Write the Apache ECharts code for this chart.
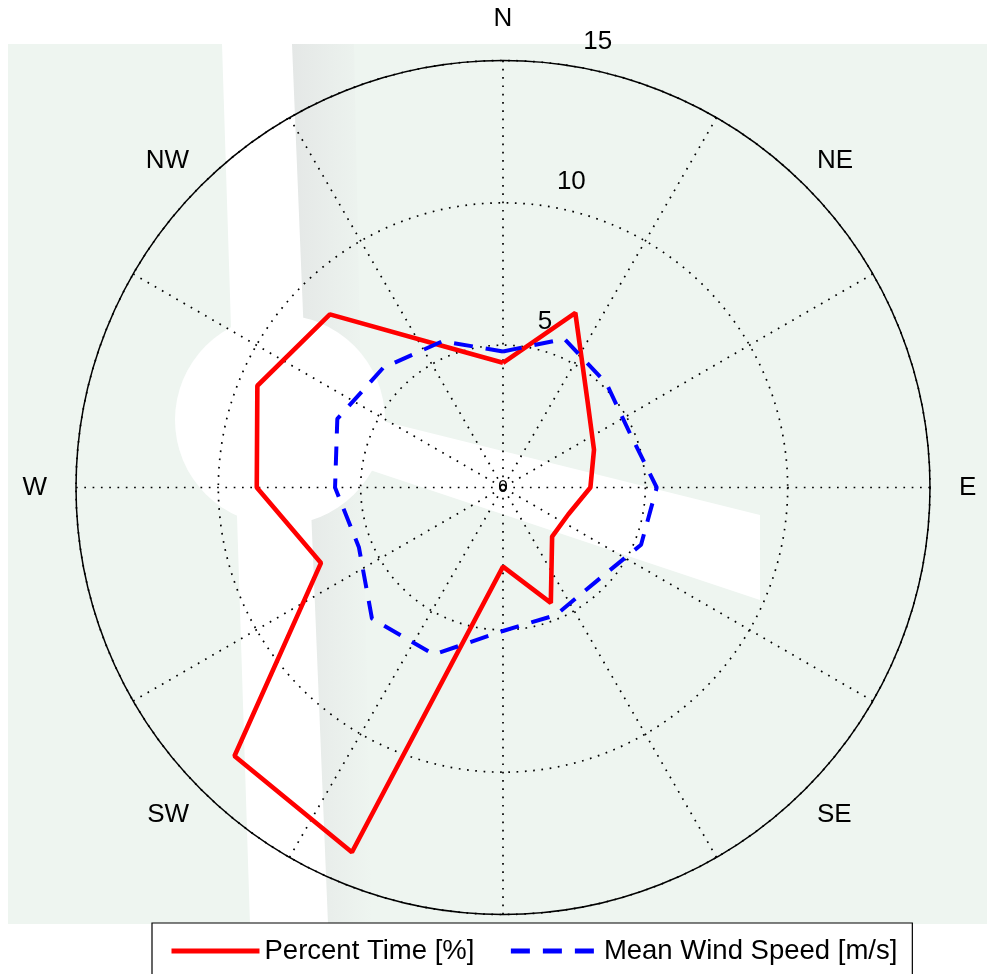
<!DOCTYPE html>
<html><head><meta charset="utf-8">
<script src="https://cdn.jsdelivr.net/npm/echarts@6/dist/echarts.min.js"></script>
<style>html,body{margin:0;padding:0;background:#fff}#c{width:987px;height:974px}</style>
</head><body><div id="c"></div>
<script>
// ---- data ----
const directions = ['N','NNE','NE','ENE','E','ESE','SE','SSE','S','SSW','SW','WSW','W','WNW','NW','NNW'];
const bearings = [0, 22.5, 45, 67.5, 90, 112.5, 135, 157.5, 180, 202.5, 225, 247.5, 270, 292.5, 315, 337.5];
const percentTime = [4.38, 6.64, 4.21, 3.46, 3.07, 2.48, 2.44, 4.39, 2.78, 13.87, 13.34, 6.92, 8.65, 9.34, 8.6, 5.36];
const meanWindSpeed = [4.78, 5.65, 5.15, 4.85, 5.4, 5.25, 4.65, 4.85, 5.04, 6.35, 6.51, 5.48, 5.9, 6.3, 5.95, 5.56];
const cardinalLabels = ['N','E','S','W'];
const diagonalLabels = ['NE','SE','SW','NW'];
const radiusMax = 15;
const radiusStep = 5;
const seriesNames = ['Percent Time [%]', 'Mean Wind Speed [m/s]'];

// closed loop: [radius, bearing]
function closed(vals){
  const d = vals.map((v,i)=>[v, bearings[i]]);
  d.push([vals[0], bearings[0] + 360]);
  return d;
}

const FONT = 'Liberation Sans, Arial, sans-serif';
const C = [503, 487.5], R = 427;
const dotted = {color:'#000', width:1.7, type:[1.7,6.6]};
const hidden = {axisLine:{show:false}, axisTick:{show:false}, axisLabel:{show:false}, splitLine:{show:false}};
const compassLabel = m => ({show:true, interval:0, margin:m, color:'#000', fontSize:26, fontFamily:FONT});

const chart = echarts.init(document.getElementById('c'), null, {renderer:'canvas'});
chart.setOption({
  animation:false,
  backgroundColor:'#ffffff',
  graphic:{elements:[
    {type:'rect', z:-100, silent:true, shape:{x:8,y:44,width:979,height:880}, style:{fill:'#eef5f0'}},
    {type:'polygon', z:-99, silent:true, shape:{points:[[290,44],[354,44],[372,924],[326,924]]},
      style:{fill:new echarts.graphic.LinearGradient(0,0,1,0,[{offset:0,color:'#e4e7e6'},{offset:1,color:'#eef5f0'}])}},
    {type:'polygon', z:-98, silent:true, shape:{points:[[222,44],[292,44],[328,924],[250,924]]}, style:{fill:'#ffffff'}},
    {type:'circle', z:-98, silent:true, shape:{cx:280,cy:420,r:105}, style:{fill:'#ffffff'}},
    {type:'polygon', z:-98, silent:true, shape:{points:[[370,418],[760,515],[760,600],[370,470]]}, style:{fill:'#ffffff'}}
  ]},
  polar:[
    {center:C, radius:R},
    {center:C, radius:R},
    {center:C, radius:R},
    {center:C, radius:R},
    {center:C, radius:R}
  ],
  angleAxis:[
    Object.assign({polarIndex:0, type:'value', min:0, max:360, startAngle:90, clockwise:true}, hidden),
    {polarIndex:1, type:'value', min:0, max:360, interval:30, startAngle:90, clockwise:true,
      axisLine:{show:true, lineStyle:{color:'#000', width:1.5}}, axisTick:{show:false}, axisLabel:{show:false},
      splitLine:{show:true, lineStyle:dotted}},
    {polarIndex:2, type:'category', data:cardinalLabels, boundaryGap:false, startAngle:90, clockwise:true,
      axisLine:{show:false}, axisTick:{show:false}, splitLine:{show:false}, axisLabel:compassLabel(29)},
    {polarIndex:3, type:'category', data:diagonalLabels, boundaryGap:false, startAngle:45, clockwise:true,
      axisLine:{show:false}, axisTick:{show:false}, splitLine:{show:false}, axisLabel:compassLabel(17)},
    Object.assign({polarIndex:4, type:'value', min:0, max:360, startAngle:79.3, clockwise:true}, hidden)
  ],
  radiusAxis:[
    Object.assign({polarIndex:0, min:0, max:radiusMax}, hidden),
    {polarIndex:1, min:0, max:radiusMax, interval:radiusStep, axisLine:{show:false}, axisTick:{show:false}, axisLabel:{show:false},
      splitLine:{show:true, lineStyle:dotted}},
    Object.assign({polarIndex:2, min:0, max:radiusMax}, hidden),
    Object.assign({polarIndex:3, min:0, max:radiusMax}, hidden),
    {polarIndex:4, min:0, max:radiusMax, interval:radiusStep, axisLine:{show:false}, axisTick:{show:false}, splitLine:{show:false},
      axisLabel:{show:true, margin:0, align:'center', verticalAlign:'middle', color:'#000', fontFamily:FONT,
        formatter:v => v===0 ? '{z|0}' : '{t|'+v+'}',
        rich:{z:{fontSize:17, fontFamily:FONT, color:'#000'}, t:{fontSize:26, fontFamily:FONT, color:'#000', padding:[0,0,52,31]}}}}
  ],
  legend:{
    data:seriesNames, left:152, top:923, orient:'horizontal',
    itemWidth:88, itemHeight:14, itemGap:34, padding:[14,15,14,17],
    backgroundColor:'#ffffff', borderColor:'#000', borderWidth:1.2, borderRadius:0,
    lineStyle:{width:5},
    itemStyle:{color:'rgba(0,0,0,0)', borderColor:'rgba(0,0,0,0)', borderWidth:0, opacity:0},
    textStyle:{fontSize:27.5, color:'#000', fontFamily:FONT}
  },
  series:[
    {name:seriesNames[0], type:'line', coordinateSystem:'polar', polarIndex:0, data:closed(percentTime),
      symbol:'none', smooth:false, clip:false, z:3,
      lineStyle:{color:'#ff0000', width:4.6}, itemStyle:{color:'#ff0000'}},
    {name:seriesNames[1], type:'line', coordinateSystem:'polar', polarIndex:0, data:closed(meanWindSpeed),
      symbol:'none', smooth:false, clip:false, z:4,
      lineStyle:{color:'#0000ff', width:4, type:[19,13]}, itemStyle:{color:'#0000ff'}}
  ]
});
</script></body></html>
